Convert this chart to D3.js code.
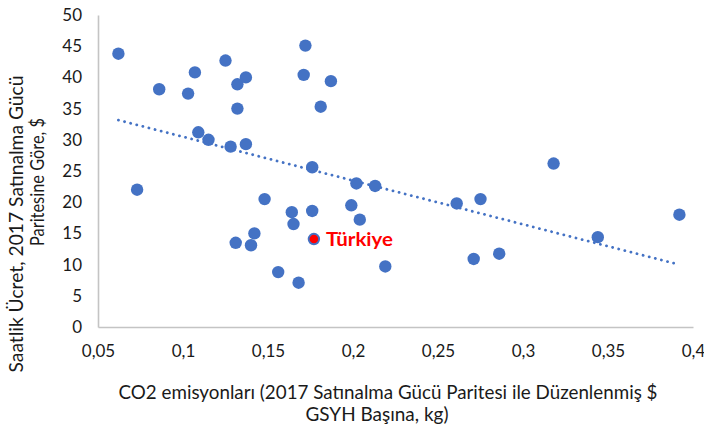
<!DOCTYPE html>
<html><head><meta charset="utf-8">
<script src="https://cdn.jsdelivr.net/npm/d3@7"></script>
<style>
html,body{margin:0;padding:0;background:#fff;}
text{font-family:"Lato","Open Sans",sans-serif;}
</style></head>
<body><svg id="c" width="704" height="426"></svg>
<script>
const co2 = [0.062,0.073,0.086,0.103,0.107,0.109,0.115,0.125,0.128,0.131,0.132,0.132,0.137,0.137,0.140,0.142,0.148,0.156,0.164,0.165,0.168,0.171,0.172,0.176,0.176,0.177,0.181,0.187,0.199,0.202,0.204,0.213,0.219,0.261,0.271,0.275,0.286,0.318,0.344,0.392];
const wage = [43.8,22.0,38.1,37.4,40.8,31.2,30.0,42.7,28.9,13.5,38.9,35.0,40.0,29.3,13.1,15.0,20.5,8.8,18.4,16.5,7.1,40.4,45.1,25.6,18.6,14.1,35.3,39.4,19.5,23.0,17.2,22.6,9.7,19.8,10.9,20.5,11.75,26.2,14.4,18.0];
const highlight = {name:"Türkiye", x:0.177, y:14.1};
const xTicks = [0.05,0.1,0.15,0.2,0.25,0.3,0.35,0.4];
const yTicks = [0,5,10,15,20,25,30,35,40,45,50];
const yTitle = ["Saatlik Ücret, 2017  Satınalma Gücü","Paritesine Göre,  $"];
const xTitle = ["CO2 emisyonları (2017 Satınalma Gücü Paritesi ile Düzenlenmiş $","GSYH Başına, kg)"];

const svg = d3.select("#c");
const x = d3.scaleLinear().domain([0.05,0.4]).range([98,693]);
const y = d3.scaleLinear().domain([0,50]).range([327,15]);
const fmt = d => String(d).replace(".", ",");
const tc = "#1a1a1a";

// axes
const ya = svg.append("g").attr("transform","translate(98,0)")
  .call(d3.axisLeft(y).tickValues(yTicks).tickSize(0).tickPadding(16).tickFormat(d=>d));
const xa = svg.append("g").attr("transform","translate(0,327)")
  .call(d3.axisBottom(x).tickValues(xTicks).tickSize(0).tickPadding(18).tickFormat(fmt));
[ya,xa].forEach(a=>{
  a.select(".domain").attr("stroke","#c4c4c4").attr("stroke-width",1.6);
  a.selectAll("text").attr("fill",tc).style("font-size","17px");
});

// trendline (least squares)
const n = co2.length, mx = d3.mean(co2), my = d3.mean(wage);
let sxy=0, sxx=0;
for(let i=0;i<n;i++){sxy+=(co2[i]-mx)*(wage[i]-my); sxx+=(co2[i]-mx)**2;}
const b = sxy/sxx, a0 = my-b*mx;
const x0 = d3.min(co2), x1 = d3.max(co2);
svg.append("line")
  .attr("x1",x(x0)).attr("y1",y(a0+b*x0)).attr("x2",x(x1)).attr("y2",y(a0+b*x1))
  .attr("stroke","#4472C4").attr("stroke-width",2.8).attr("stroke-linecap","round")
  .attr("stroke-dasharray","0.1 6.2");

// points
svg.append("g").selectAll("circle").data(d3.range(n)).join("circle")
  .attr("cx",i=>x(co2[i])).attr("cy",i=>y(wage[i])).attr("r",6.2).attr("fill","#4472C4");

// highlight
svg.append("circle").attr("cx",x(highlight.x)).attr("cy",y(highlight.y)).attr("r",4.3)
  .attr("fill","#ff0000");
svg.append("text").attr("x",x(highlight.x)+12).attr("y",y(highlight.y)+7)
  .attr("fill","#ff0000").attr("font-weight","bold").style("font-size","19px")
  .attr("textLength",67).attr("lengthAdjust","spacingAndGlyphs").text(highlight.name);

// titles
const yt = svg.append("g");
yt.append("text").attr("transform","translate(23,224) rotate(-90)").attr("text-anchor","middle")
  .attr("fill",tc).style("font-size","19px").attr("textLength",297).attr("lengthAdjust","spacingAndGlyphs").text(yTitle[0]);
yt.append("text").attr("transform","translate(44,182) rotate(-90)").attr("text-anchor","middle")
  .attr("fill",tc).style("font-size","19px").attr("textLength",128).attr("lengthAdjust","spacingAndGlyphs").text(yTitle[1]);
svg.append("text").attr("x",388).attr("y",399).attr("text-anchor","middle")
  .attr("fill",tc).style("font-size","19px").attr("textLength",539).attr("lengthAdjust","spacingAndGlyphs").text(xTitle[0]);
svg.append("text").attr("x",377).attr("y",421).attr("text-anchor","middle")
  .attr("fill",tc).style("font-size","19px").attr("textLength",143).attr("lengthAdjust","spacingAndGlyphs").text(xTitle[1]);
</script></body></html>
